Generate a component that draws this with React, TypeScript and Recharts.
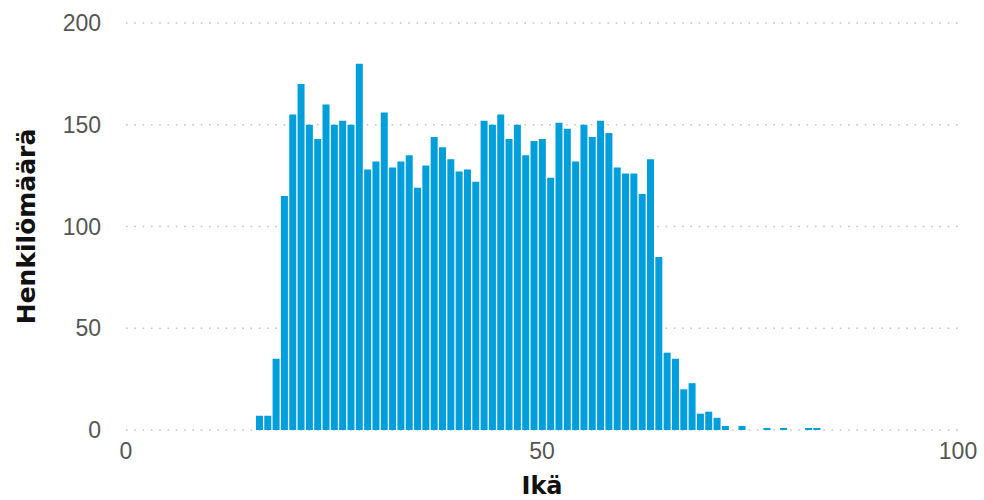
import React from 'react';
import { BarChart, Bar, XAxis, YAxis, CartesianGrid } from 'recharts';

const ages: number[] = [
  16, 17, 18, 19, 20, 21, 22, 23, 24, 25, 26, 27, 28, 29, 30, 31, 32, 33, 34, 35,
  36, 37, 38, 39, 40, 41, 42, 43, 44, 45, 46, 47, 48, 49, 50, 51, 52, 53, 54, 55,
  56, 57, 58, 59, 60, 61, 62, 63, 64, 65, 66, 67, 68, 69, 70, 71, 72, 73, 74, 75,
  76, 77, 78, 79, 80, 81, 82, 83,
];

const counts: number[] = [
  7, 7, 35, 115, 155, 170, 150, 143, 160, 150, 152, 150, 180, 128, 132, 156, 129, 132, 135, 119,
  130, 144, 139, 133, 127, 128, 122, 152, 150, 155, 143, 150, 135, 142, 143, 124, 151, 148, 132, 150,
  144, 152, 146, 129, 126, 126, 116, 133, 85, 38, 35, 20, 23, 8, 9, 6, 2, 0, 2, 0,
  0, 1, 0, 1, 0, 0, 1, 1,
];

const xTicks: number[] = [0, 50, 100];
const yTicks: number[] = [0, 50, 100, 150, 200];

const xTitle = 'Ikä';
const yTitle = 'Henkilömäärä';

const data = ages.map((a, i) => ({ age: a, count: counts[i] }));

const YTitle = (props: any) => {
  const vb = props.viewBox || {};
  const x = vb.x + 26;
  const y = vb.y + vb.height / 2;
  return (
    <text
      x={x}
      y={y}
      transform={`rotate(-90, ${x}, ${y})`}
      textAnchor="middle"
      dominantBaseline="central"
      fontFamily="'DejaVu Sans', sans-serif"
      fontWeight="bold"
      fontSize={25}
      fill="#111"
    >
      {yTitle}
    </text>
  );
};

const XTitle = (props: any) => {
  const vb = props.viewBox || {};
  const x = vb.x + vb.width / 2;
  return (
    <text
      x={x}
      y={494}
      textAnchor="middle"
      fontFamily="'DejaVu Sans', sans-serif"
      fontWeight="bold"
      fontSize={24}
      fill="#111"
    >
      {xTitle}
    </text>
  );
};

export default function App() {
  return (
    <div style={{ position: 'absolute', left: 0, top: 0, width: 984, height: 500, background: '#fff' }}>
      <BarChart
        width={984}
        height={500}
        data={data}
        margin={{ top: 23, right: 26, bottom: 0, left: 0 }}
      >
        <CartesianGrid
          vertical={false}
          stroke="#c4c4c4"
          strokeWidth={1.6}
          strokeDasharray="1.6 6.7"
        />
        <XAxis
          dataKey="age"
          type="number"
          domain={[0, 100]}
          ticks={xTicks}
          axisLine={false}
          tickLine={false}
          tickSize={0}
          tickMargin={13}
          height={70}
          interval={0}
          tick={{ fill: '#555', fontSize: 23, fontFamily: "'Liberation Sans', Arial, sans-serif" }}
          label={<XTitle />}
        />
        <YAxis
          type="number"
          domain={[0, 200]}
          ticks={yTicks}
          axisLine={false}
          tickLine={false}
          tickSize={0}
          tickMargin={25}
          width={126}
          interval={0}
          tick={{ fill: '#555', fontSize: 23, fontFamily: "'Liberation Sans', Arial, sans-serif" }}
          label={<YTitle />}
        />
        <Bar dataKey="count" fill="#009EDB" barSize={7} isAnimationActive={false} />
      </BarChart>
    </div>
  );
}
